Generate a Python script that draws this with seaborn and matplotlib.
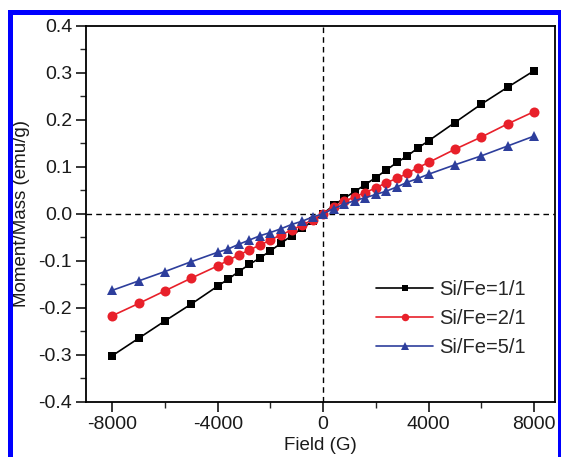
import numpy as np
import pandas as pd
import matplotlib
matplotlib.use("Agg")
import matplotlib.pyplot as plt
import seaborn as sns
from matplotlib.ticker import MultipleLocator, AutoMinorLocator, FormatStrFormatter
from matplotlib.patches import Rectangle

# Feld (G) und Moment/Masse (emu/g)
field = [-8000, -7000, -6000, -5000, -4000, -3600, -3200, -2800, -2400, -2000,
         -1600, -1200, -800, -400, 0, 400, 800, 1200, 1600, 2000,
         2400, 2800, 3200, 3600, 4000, 5000, 6000, 7000, 8000]

si_fe_1 = [-0.302, -0.265, -0.228, -0.192, -0.154, -0.139, -0.123, -0.108, -0.094, -0.079,
           -0.063, -0.047, -0.031, -0.016, 0.000, 0.018, 0.033, 0.047, 0.062, 0.077,
           0.093, 0.109, 0.123, 0.140, 0.155, 0.194, 0.233, 0.269, 0.304]

si_fe_2 = [-0.217, -0.191, -0.164, -0.137, -0.111, -0.099, -0.088, -0.077, -0.067, -0.056,
           -0.045, -0.035, -0.024, -0.013, 0.000, 0.015, 0.026, 0.036, 0.045, 0.055,
           0.066, 0.075, 0.086, 0.098, 0.109, 0.137, 0.163, 0.191, 0.217]

si_fe_5 = [-0.163, -0.143, -0.123, -0.102, -0.082, -0.075, -0.065, -0.056, -0.047, -0.040,
           -0.032, -0.023, -0.016, -0.007, 0.000, 0.011, 0.020, 0.028, 0.034, 0.041,
           0.048, 0.057, 0.067, 0.075, 0.084, 0.104, 0.123, 0.144, 0.165]

labels = ["Si/Fe=1/1", "Si/Fe=2/1", "Si/Fe=5/1"]
colors = ["#000000", "#e8202a", "#2d3e9c"]
markers = ["s", "o", "^"]
msizes = [6.3, 7.2, 7.4]

sns.set_style("ticks")
plt.rcParams["font.family"] = ["Liberation Sans", "DejaVu Sans"]
plt.rcParams["axes.unicode_minus"] = False

fig = plt.figure(figsize=(5.61, 4.57), dpi=100)
ax = fig.add_axes([86 / 561, 1 - 401.7 / 457, (555 - 86) / 561, (401.7 - 25.7) / 457])

for ys, lab, col, mk, ms in zip([si_fe_1, si_fe_2, si_fe_5], labels, colors, markers, msizes):
    df = pd.DataFrame({"field": field, "moment": ys})
    sns.lineplot(data=df, x="field", y="moment", ax=ax, color=col, marker=mk,
                 markersize=ms, markeredgewidth=0, linewidth=1.2, label=lab)

ax.axhline(0, color="black", linestyle=(0, (4, 3)), linewidth=1.0, zorder=0)
ax.axvline(0, color="black", linestyle=(0, (4, 3)), linewidth=1.0, zorder=0)

ax.set_xlim(-9000, 8800)
ax.set_ylim(-0.4, 0.4)
ax.xaxis.set_major_locator(MultipleLocator(4000))
ax.xaxis.set_minor_locator(AutoMinorLocator(2))
ax.yaxis.set_major_locator(MultipleLocator(0.1))
ax.yaxis.set_minor_locator(AutoMinorLocator(2))
ax.yaxis.set_major_formatter(FormatStrFormatter("%.1f"))

ax.tick_params(which="major", direction="out", length=7, width=1.1, labelsize=14,
               pad=3, colors="black", labelcolor="#1a1a1a")
ax.tick_params(which="minor", direction="out", length=4, width=1.0)
for s in ax.spines.values():
    s.set_linewidth(1.3)
    s.set_color("black")

ax.set_xlabel("Field (G)", fontsize=13.5, labelpad=3, color="#1a1a1a")
ax.set_ylabel("Moment/Mass (emu/g)", fontsize=13.5, labelpad=6, color="#1a1a1a")

ax.legend(loc="center left", bbox_to_anchor=(0.618, 0.222), frameon=False,
          fontsize=14.5, handlelength=2.85, handletextpad=0.3, labelspacing=0.5,
          borderpad=0, borderaxespad=0, markerscale=0.75)

# blauer Rahmen der Vorlage
fig.patches.append(Rectangle((9.5 / 561, -0.1), (559.5 - 9.5) / 561, 1.1 - 11.5 / 457,
                             transform=fig.transFigure, fill=False,
                             edgecolor="#0000ff", linewidth=3.6, clip_on=False))

fig.savefig("out.png", dpi=100)
